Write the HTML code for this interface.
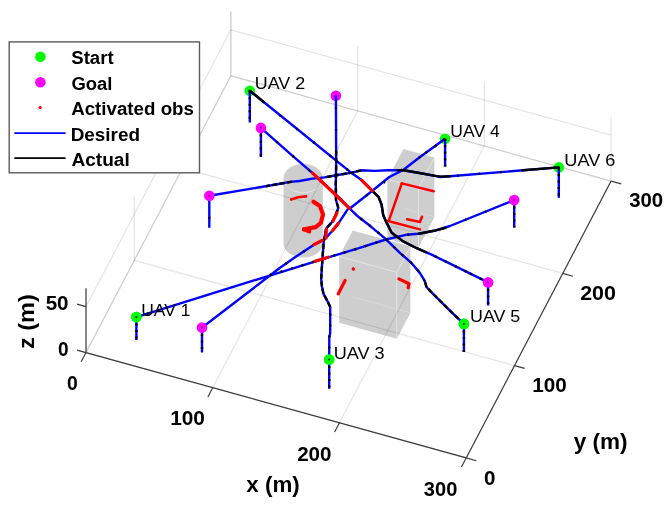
<!DOCTYPE html><html><head><meta charset="utf-8"><style>html,body{margin:0;padding:0;background:#fff;overflow:hidden}svg{display:block;will-change:transform}text{font-family:"Liberation Sans",sans-serif}</style></head><body>
<svg width="672" height="519" viewBox="0 0 672 519">
<rect width="672" height="519" fill="#fff"/>
<polygon points="322.8,177.8 322.8,242.8 322.8,243.7 322.7,244.7 322.6,245.6 322.3,246.5 322.0,247.4 321.5,248.3 321.0,249.2 320.5,250.0 319.8,250.8 319.1,251.6 318.3,252.3 317.5,253.0 316.5,253.7 315.6,254.3 314.6,254.9 313.5,255.4 312.4,255.9 311.2,256.3 310.0,256.6 308.8,256.9 307.6,257.2 306.3,257.3 305.0,257.5 303.7,257.5 302.4,257.5 301.2,257.4 299.9,257.3 298.6,257.1 297.4,256.9 296.2,256.6 295.0,256.2 293.8,255.8 292.7,255.3 291.6,254.8 290.6,254.2 289.7,253.6 288.8,253.0 287.9,252.2 287.1,251.5 286.4,250.7 285.8,249.9 285.2,249.1 284.7,248.2 284.3,247.3 284.0,246.4 283.8,245.5 283.6,244.6 283.5,243.6 283.5,178.7 283.5,177.7 283.6,176.8 283.8,175.9 284.0,175.0 284.4,174.1 284.8,173.2 285.3,172.3 285.9,171.5 286.5,170.7 287.2,169.9 288.0,169.1 288.9,168.4 289.8,167.8 290.8,167.2 291.8,166.6 292.9,166.1 294.0,165.6 295.1,165.2 296.3,164.8 297.5,164.5 298.8,164.3 300.0,164.1 301.3,164.0 302.6,163.9 303.9,164.0 305.2,164.0 306.4,164.1 307.7,164.3 309.0,164.6 310.2,164.9 311.4,165.2 312.5,165.7 313.6,166.1 314.7,166.6 315.7,167.2 316.7,167.8 317.6,168.5 318.4,169.2 319.2,170.0 319.9,170.7 320.5,171.6 321.1,172.4 321.6,173.3 322.0,174.1 322.3,175.1 322.6,176.0 322.7,176.9" fill="#cecece"/>
<polyline points="321.5,183.3 322.0,182.5 322.3,181.6 322.6,180.6 322.7,179.7 322.8,178.8 322.8,177.8 322.7,176.9 322.6,176.0 322.3,175.1 322.0,174.1 321.6,173.3 321.1,172.4 320.5,171.6 319.9,170.7 319.2,170.0 318.4,169.2 317.6,168.5 316.7,167.8 315.7,167.2 314.7,166.6 313.6,166.1 312.5,165.7 311.4,165.2 310.2,164.9 309.0,164.6 307.7,164.3 306.4,164.1 305.2,164.0 303.9,164.0 302.6,163.9 301.3,164.0 300.0,164.1 298.8,164.3 297.5,164.5 296.3,164.8 295.1,165.2 294.0,165.6 292.9,166.1 291.8,166.6 290.8,167.2 289.8,167.8 288.9,168.4 288.0,169.1 287.2,169.9 286.5,170.7 285.9,171.5 285.3,172.3 284.8,173.2 284.4,174.1 284.0,175.0 283.8,175.9 283.6,176.8 283.5,177.7 283.5,178.7 283.6,179.6 283.8,180.5 284.0,181.5 284.3,182.4 284.7,183.3 285.2,184.1 285.8,185.0 286.4,185.8 287.1,186.6 287.9,187.3 288.8,188.0 289.7,188.7 290.6,189.3 291.6,189.9 292.7,190.4 293.8,190.9 295.0,191.3 296.2,191.6 297.4,191.9 298.6,192.2 299.9,192.4 301.2,192.5 302.4,192.6 303.7,192.6 305.0,192.5 306.3,192.4 307.6,192.2 308.8,192.0 310.0,191.7 311.2,191.3 312.4,190.9 313.5,190.4 314.6,189.9 315.6,189.4 316.5,188.7 317.5,188.1 318.3,187.4 319.1,186.6 319.8,185.9 320.5,185.0 321.0,184.2 321.5,183.3" fill="none" stroke="#e6e6e6" stroke-width="1"/>
<polygon points="410.4,246.5 410.4,312.9 396.8,338.8 339.2,322.8 339.2,256.4 352.7,230.5" fill="#cecece"/>
<line x1="339.2" y1="256.4" x2="396.8" y2="272.3" stroke="#e4e4e4" stroke-width="1" fill="none"/>
<line x1="396.8" y1="272.3" x2="410.4" y2="246.5" stroke="#e4e4e4" stroke-width="1" fill="none"/>
<line x1="396.8" y1="338.8" x2="396.8" y2="272.3" stroke="#e4e4e4" stroke-width="1" fill="none"/>
<line x1="352.7" y1="297.0" x2="410.4" y2="312.9" stroke="#d9d9d9" stroke-width="1" fill="none"/>
<polygon points="434.4,157.6 434.4,216.9 418.5,247.4 387.4,238.8 387.4,179.4 403.4,149.0" fill="#cecece"/>
<line x1="387.4" y1="179.4" x2="418.5" y2="188.0" stroke="#e4e4e4" stroke-width="1" fill="none"/>
<line x1="418.5" y1="188.0" x2="434.4" y2="157.6" stroke="#e4e4e4" stroke-width="1" fill="none"/>
<line x1="418.5" y1="247.4" x2="418.5" y2="188.0" stroke="#e4e4e4" stroke-width="1" fill="none"/>
<line x1="403.4" y1="208.3" x2="434.4" y2="216.9" stroke="#d9d9d9" stroke-width="1" fill="none"/>
<g stroke="#262626" stroke-opacity="0.12" stroke-width="1.25" fill="none">
<line x1="86.0" y1="352.6" x2="230.9" y2="75.8"/>
<line x1="86.0" y1="352.6" x2="466.2" y2="457.9"/>
<line x1="86.0" y1="352.6" x2="86.0" y2="288.2"/>
<line x1="230.9" y1="75.8" x2="230.9" y2="11.4"/>
<line x1="212.7" y1="387.7" x2="357.6" y2="110.9"/>
<line x1="134.3" y1="260.3" x2="514.5" y2="365.6"/>
<line x1="134.3" y1="260.3" x2="134.3" y2="195.9"/>
<line x1="357.6" y1="110.9" x2="357.6" y2="46.5"/>
<line x1="339.5" y1="422.8" x2="484.4" y2="146.0"/>
<line x1="182.6" y1="168.1" x2="562.8" y2="273.4"/>
<line x1="182.6" y1="168.1" x2="182.6" y2="103.7"/>
<line x1="484.4" y1="146.0" x2="484.4" y2="81.6"/>
<line x1="466.2" y1="457.9" x2="611.1" y2="181.1"/>
<line x1="230.9" y1="75.8" x2="611.1" y2="181.1"/>
<line x1="230.9" y1="75.8" x2="230.9" y2="11.4"/>
<line x1="611.1" y1="181.1" x2="611.1" y2="116.7"/>
<line x1="86.0" y1="352.6" x2="230.9" y2="75.8"/>
<line x1="230.9" y1="75.8" x2="611.1" y2="181.1"/>
<line x1="86.0" y1="306.6" x2="230.9" y2="29.8"/>
<line x1="230.9" y1="29.8" x2="611.1" y2="135.1"/>
</g>
<line x1="86.0" y1="352.6" x2="466.2" y2="457.9" stroke="#3a3a3a" stroke-width="1.15" fill="none"/>
<line x1="466.2" y1="457.9" x2="611.1" y2="181.1" stroke="#3a3a3a" stroke-width="1.15" fill="none"/>
<line x1="86.0" y1="352.6" x2="86.0" y2="288.2" stroke="#3a3a3a" stroke-width="1.15" fill="none"/>
<line x1="86.0" y1="352.6" x2="81.2" y2="361.8" stroke="#3a3a3a" stroke-width="1.15" fill="none"/>
<line x1="466.2" y1="457.9" x2="476.3" y2="460.7" stroke="#3a3a3a" stroke-width="1.15" fill="none"/>
<line x1="212.7" y1="387.7" x2="207.9" y2="396.9" stroke="#3a3a3a" stroke-width="1.15" fill="none"/>
<line x1="514.5" y1="365.6" x2="524.6" y2="368.4" stroke="#3a3a3a" stroke-width="1.15" fill="none"/>
<line x1="339.5" y1="422.8" x2="334.6" y2="432.0" stroke="#3a3a3a" stroke-width="1.15" fill="none"/>
<line x1="562.8" y1="273.4" x2="572.9" y2="276.2" stroke="#3a3a3a" stroke-width="1.15" fill="none"/>
<line x1="466.2" y1="457.9" x2="461.4" y2="467.1" stroke="#3a3a3a" stroke-width="1.15" fill="none"/>
<line x1="611.1" y1="181.1" x2="621.2" y2="183.9" stroke="#3a3a3a" stroke-width="1.15" fill="none"/>
<line x1="86.0" y1="352.6" x2="77.1" y2="350.1" stroke="#3a3a3a" stroke-width="1.15" fill="none"/>
<line x1="86.0" y1="306.6" x2="77.1" y2="304.1" stroke="#3a3a3a" stroke-width="1.15" fill="none"/>
<circle cx="136.4" cy="317.1" r="5.3" fill="#00ff00"/>
<circle cx="249.8" cy="90.7" r="5.3" fill="#00ff00"/>
<circle cx="329.2" cy="359.5" r="5.3" fill="#00ff00"/>
<circle cx="445.1" cy="138.8" r="5.3" fill="#00ff00"/>
<circle cx="463.9" cy="323.9" r="5.3" fill="#00ff00"/>
<circle cx="558.8" cy="167.4" r="5.3" fill="#00ff00"/>
<circle cx="335.9" cy="95.7" r="5.3" fill="#ff00ff"/>
<line x1="136.4" y1="317.1" x2="136.4" y2="340.0" stroke="#0000ff" stroke-width="2.4" fill="none" stroke-linejoin="round"/>
<line x1="136.4" y1="317.1" x2="136.4" y2="340.0" stroke="#000" stroke-width="2.4" fill="none" stroke-dasharray="2 4.5"/>
<line x1="249.8" y1="90.7" x2="249.8" y2="122.5" stroke="#0000ff" stroke-width="2.4" fill="none" stroke-linejoin="round"/>
<line x1="249.8" y1="90.7" x2="249.8" y2="122.5" stroke="#000" stroke-width="2.4" fill="none" stroke-dasharray="2 4.5"/>
<line x1="329.2" y1="359.5" x2="329.2" y2="388.8" stroke="#0000ff" stroke-width="2.4" fill="none" stroke-linejoin="round"/>
<line x1="329.2" y1="359.5" x2="329.2" y2="388.8" stroke="#000" stroke-width="2.4" fill="none" stroke-dasharray="2 4.5"/>
<line x1="445.1" y1="138.8" x2="445.1" y2="166.5" stroke="#0000ff" stroke-width="2.4" fill="none" stroke-linejoin="round"/>
<line x1="445.1" y1="138.8" x2="445.1" y2="166.5" stroke="#000" stroke-width="2.4" fill="none" stroke-dasharray="2 4.5"/>
<line x1="463.9" y1="323.9" x2="463.9" y2="352.0" stroke="#0000ff" stroke-width="2.4" fill="none" stroke-linejoin="round"/>
<line x1="463.9" y1="323.9" x2="463.9" y2="352.0" stroke="#000" stroke-width="2.4" fill="none" stroke-dasharray="2 4.5"/>
<line x1="558.8" y1="167.4" x2="558.8" y2="197.8" stroke="#0000ff" stroke-width="2.4" fill="none" stroke-linejoin="round"/>
<line x1="558.8" y1="167.4" x2="558.8" y2="197.8" stroke="#000" stroke-width="2.4" fill="none" stroke-dasharray="2 4.5"/>
<line x1="514.2" y1="200.1" x2="514.2" y2="227.5" stroke="#0000ff" stroke-width="2.4" fill="none" stroke-linejoin="round"/>
<line x1="514.2" y1="200.1" x2="514.2" y2="227.5" stroke="#000" stroke-width="2.4" fill="none" stroke-dasharray="2 4.5"/>
<line x1="488.1" y1="282.4" x2="488.1" y2="305.5" stroke="#0000ff" stroke-width="2.4" fill="none" stroke-linejoin="round"/>
<line x1="488.1" y1="282.4" x2="488.1" y2="305.5" stroke="#000" stroke-width="2.4" fill="none" stroke-dasharray="2 4.5"/>
<line x1="202.0" y1="327.6" x2="202.0" y2="352.5" stroke="#0000ff" stroke-width="2.4" fill="none" stroke-linejoin="round"/>
<line x1="202.0" y1="327.6" x2="202.0" y2="352.5" stroke="#000" stroke-width="2.4" fill="none" stroke-dasharray="2 4.5"/>
<line x1="260.9" y1="127.9" x2="260.9" y2="157.0" stroke="#0000ff" stroke-width="2.4" fill="none" stroke-linejoin="round"/>
<line x1="260.9" y1="127.9" x2="260.9" y2="157.0" stroke="#000" stroke-width="2.4" fill="none" stroke-dasharray="2 4.5"/>
<line x1="209.3" y1="195.8" x2="209.3" y2="227.8" stroke="#0000ff" stroke-width="2.4" fill="none" stroke-linejoin="round"/>
<line x1="209.3" y1="195.8" x2="209.3" y2="227.8" stroke="#000" stroke-width="2.4" fill="none" stroke-dasharray="1.5 20" stroke-linejoin="round"/>
<polyline points="136.4,317.1 330.0,256.8 358.9,248.2 385.9,239.5 407.1,234.7 418.6,233.7 434.0,230.8 450.0,226.0 514.2,200.1" stroke="#0000ff" stroke-width="2.4" fill="none" stroke-linejoin="round"/>
<polyline points="249.8,90.7 350.8,172.4 361.6,180.1 372.4,190.8 378.6,197.0 381.6,204.7 383.2,215.0 385.9,221.2 391.7,232.8 403.2,241.4 416.7,248.2 432.1,254.9 450.0,263.6 488.1,282.4" stroke="#0000ff" stroke-width="2.4" fill="none" stroke-linejoin="round"/>
<polyline points="329.2,359.5 329.3,337.0 330.2,333.0 330.2,307.0 327.6,301.3 323.5,293.9 321.9,286.2 321.2,278.9 322.4,258.7 323.9,240.1 326.2,228.5 332.4,221.6 335.5,215.4 338.3,208.0 336.0,200.0 335.8,185.0 336.2,160.0 335.9,95.7" stroke="#0000ff" stroke-width="2.4" fill="none" stroke-linejoin="round"/>
<polyline points="445.1,138.8 420.0,157.0 403.2,170.0 389.3,177.0 372.4,190.8 350.8,207.8 347.8,209.2 338.6,223.1 332.4,230.8 324.7,239.3 313.9,244.7 295.4,257.0 280.0,267.8 225.0,310.0 202.0,327.6" stroke="#0000ff" stroke-width="2.4" fill="none" stroke-linejoin="round"/>
<polyline points="463.9,323.9 450.9,311.6 441.6,302.4 430.8,291.6 426.5,287.0 424.7,280.8 420.0,273.1 410.8,262.3 400.4,253.3 385.0,238.3 370.0,225.8 358.9,217.3 349.5,208.3 341.6,200.0 312.6,173.2 290.0,153.6 260.9,127.9" stroke="#0000ff" stroke-width="2.4" fill="none" stroke-linejoin="round"/>
<polyline points="558.8,167.4 449.8,176.2 440.0,177.0 436.4,176.1 420.9,173.2 403.5,170.3 388.0,170.3 374.5,170.9 361.0,170.3 351.9,172.6 337.6,175.0 324.5,177.4 312.6,178.6 299.5,181.0 290.0,181.9 280.0,183.8 209.3,195.8" stroke="#0000ff" stroke-width="2.4" fill="none" stroke-linejoin="round"/>
<polyline points="136.4,317.1 160.0,309.6" stroke="#000" stroke-width="2.4" fill="none" stroke-dasharray="2 9" stroke-linejoin="round"/>
<polyline points="270.0,275.0 330.0,256.8 358.9,248.2 385.9,239.5 407.1,234.7 418.6,233.7" stroke="#000" stroke-width="2.4" fill="none" stroke-dasharray="2 9" stroke-linejoin="round"/>
<polyline points="418.6,233.7 434.0,230.8 445.0,228.0" stroke="#000" stroke-width="2.4" fill="none" stroke-linejoin="round" stroke-linecap="round"/>
<polyline points="445.0,228.0 490.0,210.0" stroke="#000" stroke-width="2.4" fill="none" stroke-dasharray="1.5 20" stroke-linejoin="round"/>
<polyline points="249.8,90.7 263.0,101.5" stroke="#000" stroke-width="2.4" fill="none" stroke-linejoin="round" stroke-linecap="round"/>
<polyline points="263.0,101.5 350.8,172.4" stroke="#000" stroke-width="2.4" fill="none" stroke-dasharray="1.5 20" stroke-linejoin="round"/>
<polyline points="372.4,190.8 378.6,197.0 381.6,204.7 383.2,215.0 385.9,221.2 391.7,232.8 403.2,241.4 416.7,248.2 425.0,251.8" stroke="#000" stroke-width="2.4" fill="none" stroke-linejoin="round" stroke-linecap="round"/>
<polyline points="425.0,251.8 432.1,254.9 450.0,263.6 470.0,273.5" stroke="#000" stroke-width="2.4" fill="none" stroke-dasharray="2 9" stroke-linejoin="round"/>
<polyline points="470.0,273.5 488.1,282.4" stroke="#000" stroke-width="2.4" fill="none" stroke-dasharray="2 9" stroke-linejoin="round"/>
<polyline points="329.2,359.5 329.3,337.0 330.2,333.0 330.2,307.0" stroke="#000" stroke-width="2.4" fill="none" stroke-dasharray="2 9" stroke-linejoin="round"/>
<polyline points="330.2,307.0 327.6,301.3 323.5,293.9 321.9,286.2 321.2,278.9 322.4,258.7 323.9,240.1 326.2,228.5 332.4,221.6 335.5,215.4 338.3,208.0 336.0,200.0 335.8,185.0 336.2,165.0 336.1,152.0" stroke="#000" stroke-width="2.4" fill="none" stroke-dasharray="5 2.5" stroke-linejoin="round"/>
<polyline points="336.1,152.0 335.9,95.7" stroke="#000" stroke-width="2.4" fill="none" stroke-dasharray="1.5 20" stroke-linejoin="round"/>
<polyline points="445.1,138.8 420.0,157.0" stroke="#000" stroke-width="2.4" fill="none" stroke-dasharray="2 9" stroke-linejoin="round"/>
<polyline points="420.0,157.0 372.4,190.8 350.8,207.8 347.8,209.2 338.6,223.1 332.4,230.8 324.7,239.3 313.9,244.7 295.4,257.0 280.0,267.8" stroke="#000" stroke-width="2.4" fill="none" stroke-dasharray="1.5 20" stroke-linejoin="round"/>
<polyline points="463.9,323.9 450.9,311.6 441.6,302.4 430.8,291.6 426.5,287.0 424.7,280.8" stroke="#000" stroke-width="2.4" fill="none" stroke-dasharray="5 2.5" stroke-linejoin="round"/>
<polyline points="424.7,280.8 420.0,273.1 410.8,262.3 400.4,253.3 385.0,238.3 370.0,225.8 358.9,217.3" stroke="#000" stroke-width="2.4" fill="none" stroke-dasharray="2 9" stroke-linejoin="round"/>
<polyline points="341.6,200.0 312.6,173.2 290.0,153.6 260.9,127.9" stroke="#000" stroke-width="2.4" fill="none" stroke-dasharray="1.5 20" stroke-linejoin="round"/>
<polyline points="558.8,167.4 523.0,170.3" stroke="#000" stroke-width="2.4" fill="none" stroke-linejoin="round" stroke-linecap="round"/>
<polyline points="523.0,170.3 449.8,176.2" stroke="#000" stroke-width="2.4" fill="none" stroke-dasharray="1.5 20" stroke-linejoin="round"/>
<polyline points="449.8,176.2 442.0,176.6 436.4,176.1 420.9,173.2 403.5,170.3 398.0,170.3" stroke="#000" stroke-width="2.4" fill="none" stroke-linejoin="round" stroke-linecap="round"/>
<polyline points="361.0,170.3 351.9,172.6 337.6,175.0 324.5,177.4" stroke="#000" stroke-width="2.4" fill="none" stroke-dasharray="5 2.5" stroke-linejoin="round"/>
<polyline points="292.0,181.8 280.0,183.8 266.0,186.2" stroke="#000" stroke-width="2.4" fill="none" stroke-dasharray="5 2.5" stroke-linejoin="round"/>
<circle cx="514.2" cy="200.1" r="5.3" fill="#ff00ff"/>
<circle cx="488.1" cy="282.4" r="5.3" fill="#ff00ff"/>
<circle cx="202.0" cy="327.6" r="5.3" fill="#ff00ff"/>
<circle cx="260.9" cy="127.9" r="5.3" fill="#ff00ff"/>
<circle cx="209.3" cy="195.8" r="5.3" fill="#ff00ff"/>
<circle cx="514.2" cy="200.1" r="1.1" fill="#500050" fill-opacity="0.7"/>
<circle cx="488.1" cy="282.4" r="1.1" fill="#500050" fill-opacity="0.7"/>
<circle cx="335.9" cy="95.7" r="1.1" fill="#500050" fill-opacity="0.7"/>
<circle cx="202.0" cy="327.6" r="1.1" fill="#500050" fill-opacity="0.7"/>
<circle cx="260.9" cy="127.9" r="1.1" fill="#500050" fill-opacity="0.7"/>
<circle cx="209.3" cy="195.8" r="1.1" fill="#500050" fill-opacity="0.7"/>
<circle cx="136.4" cy="317.1" r="5.3" fill="#00ff00"/><circle cx="136.4" cy="317.1" r="1.1" fill="#000" fill-opacity="0.8"/>
<circle cx="329.2" cy="359.5" r="5.3" fill="#00ff00"/><circle cx="329.2" cy="359.5" r="1.1" fill="#000" fill-opacity="0.8"/>
<circle cx="463.9" cy="323.9" r="5.3" fill="#00ff00"/><circle cx="463.9" cy="323.9" r="1.1" fill="#000" fill-opacity="0.8"/>
<polyline points="312.6,173.2 330.0,189.5 349.5,208.3" stroke="#ff0000" stroke-width="3.2" fill="none" stroke-linecap="round" stroke-linejoin="round"/>
<polyline points="361.6,180.1 372.4,190.8" stroke="#ff0000" stroke-width="3.2" fill="none" stroke-linecap="round" stroke-linejoin="round"/>
<polyline points="291.2,199.6 298.0,197.3 306.1,196.4" stroke="#ff0000" stroke-width="2.6" fill="none" stroke-linecap="round" stroke-linejoin="round"/>
<polyline points="313.5,201.7 319.9,205.9 323.0,214.4 320.9,222.9 315.6,227.1 304.0,229.3" stroke="#ff0000" stroke-width="4.2" fill="none" stroke-linecap="round" stroke-linejoin="round"/>
<polyline points="304.0,229.3 309.3,231.4" stroke="#ff0000" stroke-width="4.2" fill="none" stroke-linecap="round" stroke-linejoin="round"/>
<polyline points="401.8,183.4 433.7,191.2" stroke="#ff0000" stroke-width="2.5" fill="none" stroke-linecap="round" stroke-linejoin="round"/>
<polyline points="401.8,183.4 389.1,219.9" stroke="#ff0000" stroke-width="2.5" fill="none" stroke-linecap="round" stroke-linejoin="round"/>
<polyline points="388.0,221.0 419.9,229.4" stroke="#ff0000" stroke-width="2.5" fill="none" stroke-linecap="round" stroke-linejoin="round"/>
<polyline points="407.1,219.2 419.9,222.0 422.0,216.7" stroke="#ff0000" stroke-width="2.5" fill="none" stroke-linecap="round" stroke-linejoin="round"/>
<polyline points="353.2,268.8 353.4,269.0" stroke="#ff0000" stroke-width="3.2" fill="none" stroke-linecap="round" stroke-linejoin="round"/>
<polyline points="345.1,280.5 338.2,293.9" stroke="#ff0000" stroke-width="3.2" fill="none" stroke-linecap="round" stroke-linejoin="round"/>
<polyline points="398.9,278.9 409.0,283.8 408.2,287.8" stroke="#ff0000" stroke-width="3.2" fill="none" stroke-linecap="round" stroke-linejoin="round"/>
<polyline points="313.9,244.7 322.0,240.5" stroke="#ff0000" stroke-width="3.2" fill="none" stroke-linecap="round" stroke-linejoin="round"/>
<polyline points="332.4,230.8 338.6,223.1" stroke="#ff0000" stroke-width="3.2" fill="none" stroke-linecap="round" stroke-linejoin="round"/>
<polyline points="315.0,261.2 328.0,257.2" stroke="#ff0000" stroke-width="3.2" fill="none" stroke-linecap="round" stroke-linejoin="round"/>
<polyline points="326.0,238.0 326.4,229.0" stroke="#ff0000" stroke-width="3.2" fill="none" stroke-linecap="round" stroke-linejoin="round"/>
<polyline points="333.0,221.0 337.0,213.0" stroke="#ff0000" stroke-width="3.2" fill="none" stroke-linecap="round" stroke-linejoin="round"/>
<rect x="9.2" y="41.9" width="190.3" height="130.9" fill="#fff" stroke="#5a5a5a" stroke-width="1.4"/>
<circle cx="40.4" cy="56.7" r="5.3" fill="#00ff00"/>
<circle cx="40.4" cy="82.2" r="5.3" fill="#ff00ff"/>
<circle cx="40.2" cy="107.6" r="1.6" fill="#ff0000"/>
<line x1="14.3" y1="133.1" x2="65.6" y2="133.1" stroke="#0000ff" stroke-width="1.8"/>
<line x1="14.3" y1="158.1" x2="65.6" y2="158.1" stroke="#000" stroke-width="1.8"/>
<text x="67.05" y="389.65" font-size="20.30" font-weight="bold" textLength="10.77" lengthAdjust="spacingAndGlyphs" fill="#000">0</text>
<text x="170.15" y="424.50" font-size="20.30" font-weight="bold" textLength="34.79" lengthAdjust="spacingAndGlyphs" fill="#000">100</text>
<text x="297.15" y="460.70" font-size="20.30" font-weight="bold" textLength="34.36" lengthAdjust="spacingAndGlyphs" fill="#000">200</text>
<text x="423.85" y="495.65" font-size="20.30" font-weight="bold" textLength="33.48" lengthAdjust="spacingAndGlyphs" fill="#000">300</text>
<text x="484.00" y="485.05" font-size="20.30" font-weight="bold" textLength="11.43" lengthAdjust="spacingAndGlyphs" fill="#000">0</text>
<text x="532.20" y="391.95" font-size="20.30" font-weight="bold" textLength="34.50" lengthAdjust="spacingAndGlyphs" fill="#000">100</text>
<text x="580.15" y="300.00" font-size="20.30" font-weight="bold" textLength="35.84" lengthAdjust="spacingAndGlyphs" fill="#000">200</text>
<text x="629.15" y="207.35" font-size="20.30" font-weight="bold" textLength="33.97" lengthAdjust="spacingAndGlyphs" fill="#000">300</text>
<text x="58.05" y="356.30" font-size="20.30" font-weight="bold" textLength="10.61" lengthAdjust="spacingAndGlyphs" fill="#000">0</text>
<text x="45.65" y="309.75" font-size="20.30" font-weight="bold" textLength="22.95" lengthAdjust="spacingAndGlyphs" fill="#000">50</text>
<text x="246.35" y="492.10" font-size="22.00" font-weight="bold" textLength="53.31" lengthAdjust="spacingAndGlyphs" fill="#000">x (m)</text>
<text x="573.70" y="449.00" font-size="22.00" font-weight="bold" textLength="53.81" lengthAdjust="spacingAndGlyphs" fill="#000">y (m)</text>
<text transform="translate(34.40,349.05) rotate(-90)" font-size="22.00" font-weight="bold" textLength="54.81" lengthAdjust="spacingAndGlyphs" fill="#000">z (m)</text>
<text x="71.25" y="64.00" font-size="18.00" font-weight="bold" textLength="42.38" lengthAdjust="spacingAndGlyphs" fill="#000">Start</text>
<text x="71.15" y="114.70" font-size="18.00" font-weight="bold" textLength="122.81" lengthAdjust="spacingAndGlyphs" fill="#000">Activated obs</text>
<text x="141.30" y="315.80" font-size="16.30" font-weight="normal" textLength="49.05" lengthAdjust="spacingAndGlyphs" fill="#000">UAV 1</text>
<text x="254.88" y="89.05" font-size="16.30" font-weight="normal" textLength="50.32" lengthAdjust="spacingAndGlyphs" fill="#000">UAV 2</text>
<text x="470.00" y="322.30" font-size="16.30" font-weight="normal" textLength="50.25" lengthAdjust="spacingAndGlyphs" fill="#000">UAV 5</text>
<text x="333.65" y="359.30" font-size="16.30" font-weight="normal" textLength="50.98" lengthAdjust="spacingAndGlyphs" fill="#000">UAV 3</text>
<text x="450.38" y="137.20" font-size="16.30" font-weight="normal" textLength="49.29" lengthAdjust="spacingAndGlyphs" fill="#000">UAV 4</text>
<text x="564.35" y="165.97" font-size="16.30" font-weight="normal" textLength="50.98" lengthAdjust="spacingAndGlyphs" fill="#000">UAV 6</text>
<text x="71.45" y="89.70" font-size="18.00" font-weight="bold" textLength="41.00" lengthAdjust="spacingAndGlyphs" fill="#000">Goal</text>
<text x="70.70" y="140.55" font-size="18.00" font-weight="bold" textLength="69.34" lengthAdjust="spacingAndGlyphs" fill="#000">Desired</text>
<text x="71.45" y="166.25" font-size="18.00" font-weight="bold" textLength="58.25" lengthAdjust="spacingAndGlyphs" fill="#000">Actual</text>
</svg></body></html>
